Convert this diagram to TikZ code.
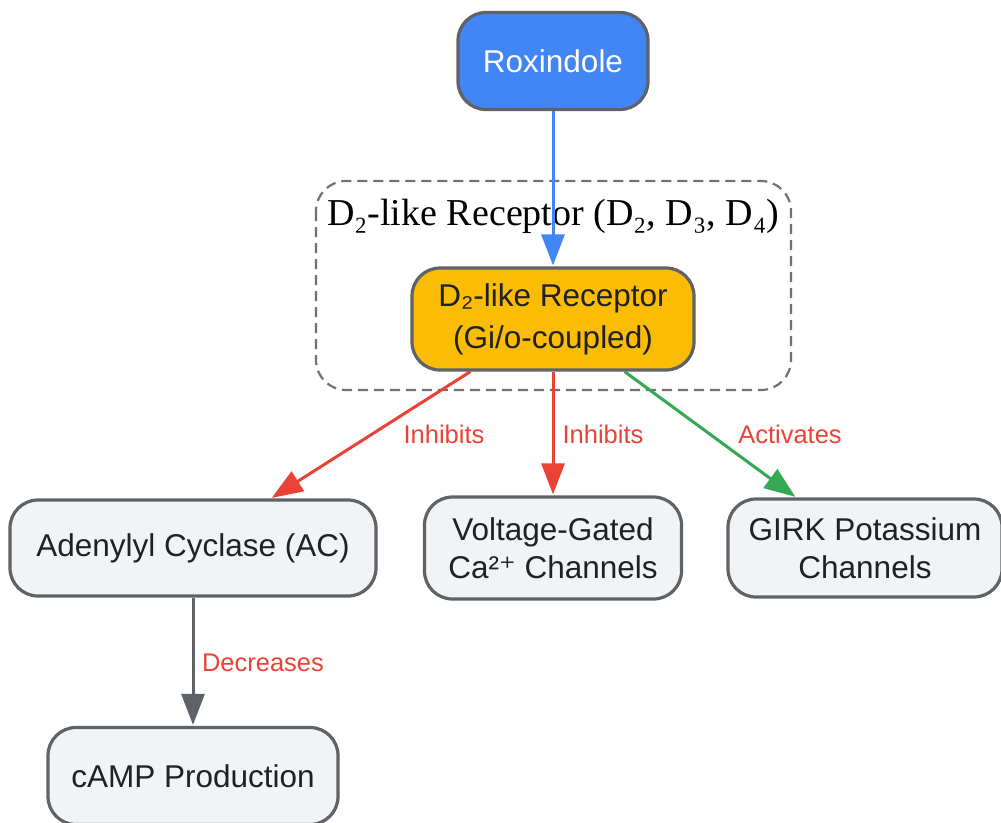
\documentclass[tikz,border=0pt]{standalone}
\usepackage{fontspec}
\setmainfont{Liberation Sans}
\newfontfamily\clusterfont{Liberation Serif}
\newfontfamily\symfont{DejaVu Sans}
\usepackage{tikz}
\usetikzlibrary{arrows.meta,positioning,calc}
\definecolor{gblue}{HTML}{4285F4}
\definecolor{gyellow}{HTML}{FBBC04}
\definecolor{gred}{HTML}{EA4335}
\definecolor{ggreen}{HTML}{34A853}
\definecolor{ggray}{HTML}{5F6368}
\definecolor{glight}{HTML}{F1F3F4}
\definecolor{gtext}{HTML}{202124}
\tikzset{
  >={Triangle[length=31pt,width=23pt]},
  box/.style={rectangle, draw=ggray, line width=3.2pt, rounded corners=28pt, fill=glight,
    text=gtext, align=center, font=\fontsize{31.5}{38}\selectfont, inner sep=0pt},
  flow/.style={->, line width=3pt, shorten >=1pt},
  lbl/.style={font=\fontsize{25.5}{28}\selectfont, text=gred}
}

\begin{document}
\begin{tikzpicture}[x=1pt, y=-1pt]
    \useasboundingbox (0,0) rectangle (1001,822);

    % Receptor group (dashed box)
    \draw[rounded corners=30pt, dash pattern=on 10pt off 6pt, ggray!90, line width=2.2pt] (316,181) rectangle (791,390);
    \node[font=\clusterfont\fontsize{38}{40}\selectfont, text=black] (grp) at (553,216) {D₂-like Receptor (D₂, D₃, D₄)};

    % Nodes
    \node[box, fill=gblue, text=white, minimum width=190pt, minimum height=97pt] (rox) at (553,61) {Roxindole};
    \node[box, fill=gyellow, font=\fontsize{31.5}{42}\selectfont, minimum width=282pt, minimum height=102pt] (rec) at (553,319) {D₂-like Receptor\\(Gi/o-coupled)};
    \node[box, minimum width=366pt, minimum height=96pt] (ac) at (193,548) {Adenylyl Cyclase (AC)};
    \node[box, minimum width=257pt, minimum height=102pt] (vgcc) at (553,548) {Voltage-Gated\\Ca²{\symfont ⁺} Channels};
    \node[box, minimum width=274pt, minimum height=98pt] (girk) at (865,548) {GIRK Potassium\\Channels};
    \node[box, minimum width=290pt, minimum height=97pt] (camp) at (193,776) {cAMP Production};

    % Connectors
    \draw[flow, gblue] (rox) -- (rec);
    \draw[flow, gred] (rec) -- (ac);
    \draw[flow, gred] (rec) -- (vgcc);
    \draw[flow, ggreen] (rec) -- (girk);
    \draw[flow, ggray] (ac) -- (camp);

    % Edge labels
    \node[lbl] (l1) at (444,434) {Inhibits};
    \node[lbl] (l2) at (603,434) {Inhibits};
    \node[lbl] (l3) at (790,434) {Activates};
    \node[lbl] (l4) at (263,663) {Decreases};
\end{tikzpicture}
\end{document}
